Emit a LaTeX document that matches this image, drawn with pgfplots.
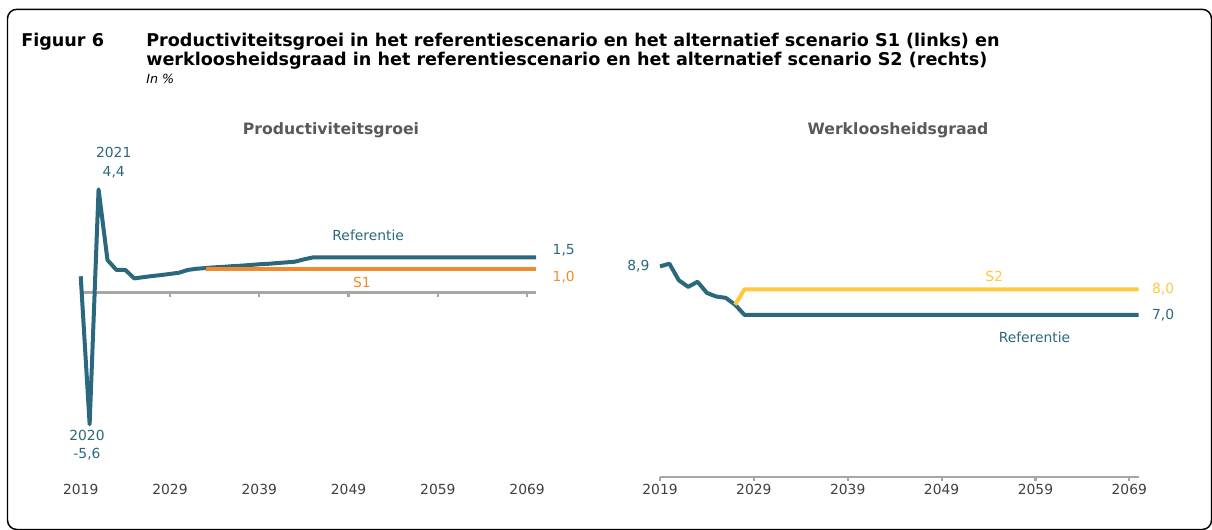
\documentclass[border=0pt]{standalone}
\usepackage{fontspec}
\setmainfont{DejaVu Sans}
\usepackage{pgfplots}
\pgfplotsset{compat=1.18}
\definecolor{refc}{HTML}{2B687D}
\definecolor{sone}{HTML}{F28A2E}
\definecolor{stwo}{HTML}{FFC83D}
\definecolor{axgrey}{HTML}{A6A6A6}
\definecolor{ticktxt}{HTML}{404040}
\definecolor{ptitle}{HTML}{595959}
\tikzset{
  lbl/.style = {inner sep=0pt, font=\fontsize{10.4}{12}\selectfont},
  dline/.style = {line width=3pt, line join=round},
}
\pgfplotsset{
  panel/.style = {
    anchor=south west, scale only axis, clip=false,
    axis line style={draw=none}, ytick=\empty,
    major tick length=0pt,
    xmin=2019, xmax=2070,
    xtick={2019,2029,2039,2049,2059,2069},
    xticklabels={2019,2029,2039,2049,2059,2069},
    xticklabel style={anchor=north, inner sep=0pt, text=ticktxt,
      font=\fontsize{10.4}{12}\selectfont},
    /pgf/number format/assume math mode=true,
  },
}
\begin{document}
\begin{tikzpicture}
\begin{scope}[x=0.75pt, y=-0.75pt]
\useasboundingbox (0,0) rectangle (1212,529);
\draw[line width=1.1pt, rounded corners=7pt] (7.5,9.3) rectangle (1211.5,529.5);
\node[anchor=base west, inner sep=0pt, font=\bfseries\fontsize{13.2}{15}\selectfont] at (21,46) {Figuur 6};
\node[anchor=base west, inner sep=0pt, font=\bfseries\fontsize{13.2}{15}\selectfont] at (146,46)
  {Productiviteitsgroei in het referentiescenario en het alternatief scenario S1 (links) en};
\node[anchor=base west, inner sep=0pt, font=\bfseries\fontsize{13.2}{15}\selectfont] at (146,65)
  {werkloosheidsgraad in het referentiescenario en het alternatief scenario S2 (rechts)};
\node[anchor=base west, inner sep=0pt, font=\itshape\fontsize{9.5}{11}\selectfont] at (146,83) {In \%};
\node[anchor=base, inner sep=0pt, text=ptitle, font=\bfseries\fontsize{11.75}{14}\selectfont] at (331,134) {Productiviteitsgroei};
\node[anchor=base, inner sep=0pt, text=ptitle, font=\bfseries\fontsize{11.75}{14}\selectfont] at (898,134) {Werkloosheidsgraad};
\end{scope}

% left panel: productiviteitsgroei
\begin{axis}[panel, at={(60.53pt,-363pt)}, width=341.5pt, height=240.4pt,
  ymin=-8.14, ymax=5.5]
\draw[axgrey, line width=2pt] (axis cs:2019,0) -- (axis cs:2070,0);
\pgfplotsinvokeforeach{2019,2029,2039,2049,2059,2069}{
  \draw[axgrey, line width=1.6pt] (axis cs:#1,0) -- ([yshift=-3pt]axis cs:#1,0);
}
\addplot[refc, dline] coordinates {
  (2019,0.7) (2020,-5.6) (2021,4.4) (2022,1.39) (2023,0.97) (2024,0.97)
  (2025,0.61) (2026,0.66) (2027,0.71) (2028,0.75) (2029,0.80) (2030,0.85)
  (2031,0.97) (2032,1.02) (2033,1.05) (2034,1.08) (2035,1.10) (2036,1.13)
  (2037,1.15) (2038,1.18) (2039,1.21) (2040,1.23) (2041,1.26) (2042,1.29)
  (2043,1.32) (2044,1.42) (2045,1.5) (2070,1.5)
};
\addplot[sone, dline] coordinates {(2033,1.0) (2070,1.0)};
\node[lbl, text=refc] at (axis cs:2022.7,5.96) {2021};
\node[lbl, text=refc] at (axis cs:2022.7,5.11) {4,4};
\node[lbl, text=refc] at (axis cs:2019.7,-6.09) {2020};
\node[lbl, text=refc] at (axis cs:2019.7,-6.86) {-5,6};
\node[lbl, text=refc] at (axis cs:2051.2,2.45) {Referentie};
\node[lbl, text=sone] at (axis cs:2050.5,0.42) {S1};
\node[lbl, text=refc] at (axis cs:2073.1,1.82) {1,5};
\node[lbl, text=sone] at (axis cs:2073.1,0.65) {1,0};
\end{axis}

% right panel: werkloosheidsgraad
\begin{axis}[panel, at={(495pt,-363pt)}, width=359pt, height=184.2pt,
  ymin=0.37, ymax=10]
\draw[axgrey, line width=2pt] (axis cs:2019,0.65) -- (axis cs:2070,0.65);
\pgfplotsinvokeforeach{2019,2029,2039,2049,2059,2069}{
  \draw[axgrey, line width=1.6pt] (axis cs:#1,0.65) -- ([yshift=-3pt]axis cs:#1,0.65);
}
\addplot[refc, dline] coordinates {
  (2019,8.9) (2020,9.01) (2021,8.36) (2022,8.10) (2023,8.30) (2024,7.86)
  (2025,7.72) (2026,7.67) (2027,7.40) (2028,7.0) (2070,7.0)
};
\addplot[stwo, dline] coordinates {(2027,7.40) (2028,8.0) (2070,8.0)};
\node[lbl, text=refc] at (axis cs:2016.7,8.93) {8,9};
\node[lbl, text=stwo] at (axis cs:2054.6,8.51) {S2};
\node[lbl, text=refc] at (axis cs:2058.9,6.11) {Referentie};
\node[lbl, text=stwo] at (axis cs:2072.6,8.0) {8,0};
\node[lbl, text=refc] at (axis cs:2072.6,7.0) {7,0};
\end{axis}
\end{tikzpicture}
\end{document}
